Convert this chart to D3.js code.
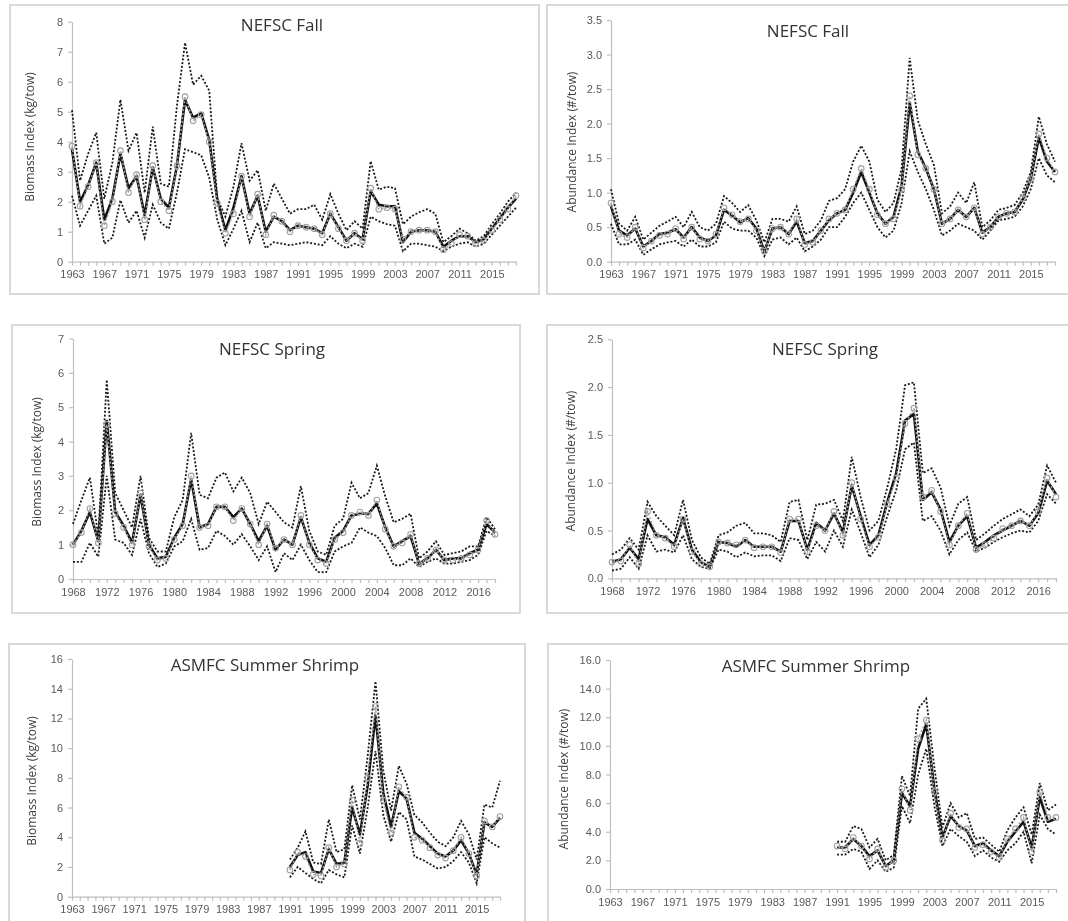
<!DOCTYPE html>
<html>
<head>
<meta charset="utf-8">
<script src="https://d3js.org/d3.v7.min.js"></script>
<style>
  body { margin: 0; background: #fff; }
  svg { display: block; font-family: "Open Sans", "Liberation Sans", sans-serif; filter: blur(0.45px); }
  .axis path, .axis line { stroke: #bfbfbf; }
  .axis text { fill: #595959; font-size: 11px; }
</style>
</head>
<body>
<script>
// ---------- data ----------
// NEFSC Fall 1963-2018
var fallStart = 1963;
var fallBioMean  = [3.75,2.0,2.55,3.3,1.4,2.1,3.6,2.45,2.85,1.55, 3.15,2.1,1.8,3.2,5.4,4.8,4.95,4.05,2.05,1.05, 1.8,2.85,1.6,2.2,1.0,1.5,1.35,1.05,1.2,1.15, 1.1,0.95,1.6,1.15,0.7,0.95,0.75,2.35,1.9,1.85, 1.85,0.65,1.0,1.05,1.05,1.0,0.5,0.7,0.85,0.85, 0.65,0.75,1.1,1.45,1.8,2.1];
var fallBioObs   = [3.85,1.85,2.5,3.3,1.2,2.0,3.7,2.3,2.9,1.4, 3.2,2.0,1.7,3.2,5.5,4.7,4.9,4.0,1.95,0.95, 1.6,2.85,1.5,2.25,0.9,1.55,1.35,1.0,1.2,1.15, 1.1,0.9,1.6,1.1,0.7,0.95,0.7,2.45,1.75,1.8, 1.75,0.75,1.0,1.05,1.05,1.0,0.4,0.6,0.9,0.85, 0.6,0.7,1.05,1.4,1.75,2.2];
var fallBioUpper = [5.05,2.7,3.6,4.3,2.1,3.3,5.4,3.7,4.3,2.3, 4.5,2.6,2.5,5.2,7.3,5.9,6.2,5.7,2.1,1.5, 2.5,3.95,2.7,3.05,1.7,2.6,2.1,1.6,1.75,1.75, 1.9,1.4,2.25,1.6,1.05,1.35,1.1,3.35,2.4,2.5, 2.45,1.25,1.5,1.65,1.75,1.6,0.65,0.85,1.1,0.95, 0.7,0.85,1.25,1.6,2.0,2.3];
var fallBioLower = [2.2,1.2,1.7,2.2,0.6,0.8,2.05,1.3,1.7,0.8, 1.9,1.3,1.1,2.3,3.75,3.65,3.55,2.8,1.4,0.55, 1.1,1.7,0.65,1.3,0.45,0.65,0.6,0.55,0.6,0.65, 0.6,0.55,0.85,0.6,0.45,0.6,0.5,1.5,1.35,1.25, 1.2,0.35,0.6,0.6,0.55,0.5,0.35,0.5,0.6,0.65, 0.5,0.6,0.9,1.2,1.5,1.8];

var fallAbunMean  = [0.8,0.45,0.38,0.48,0.22,0.3,0.4,0.42,0.47,0.35, 0.5,0.35,0.3,0.38,0.75,0.67,0.57,0.63,0.48,0.15, 0.48,0.5,0.4,0.58,0.27,0.3,0.45,0.6,0.7,0.75, 1.0,1.3,1.0,0.7,0.55,0.65,1.1,2.3,1.6,1.35, 1.05,0.55,0.62,0.75,0.65,0.78,0.42,0.5,0.65,0.7, 0.72,0.9,1.2,1.8,1.45,1.3];
var fallAbunObs   = [0.85,0.4,0.35,0.5,0.2,0.3,0.38,0.4,0.48,0.33, 0.5,0.33,0.3,0.4,0.78,0.68,0.58,0.62,0.45,0.15, 0.48,0.5,0.4,0.62,0.25,0.28,0.45,0.62,0.7,0.75, 1.05,1.35,1.05,0.68,0.55,0.62,1.05,2.4,1.55,1.35, 1.05,0.55,0.62,0.75,0.65,0.78,0.4,0.5,0.65,0.7, 0.72,0.92,1.2,1.85,1.5,1.3];
var fallAbunUpper = [1.05,0.55,0.45,0.65,0.32,0.42,0.52,0.58,0.65,0.5, 0.72,0.5,0.45,0.55,0.95,0.85,0.72,0.82,0.6,0.28, 0.62,0.62,0.58,0.8,0.4,0.45,0.6,0.88,0.92,1.05, 1.45,1.68,1.45,0.9,0.72,0.85,1.35,2.95,2.05,1.7, 1.4,0.7,0.8,1.0,0.85,1.15,0.5,0.6,0.75,0.78, 0.82,1.0,1.3,2.1,1.7,1.45];
var fallAbunLower = [0.55,0.25,0.25,0.32,0.1,0.18,0.25,0.28,0.3,0.22, 0.32,0.22,0.22,0.28,0.58,0.48,0.45,0.45,0.35,0.08, 0.32,0.35,0.25,0.35,0.15,0.22,0.32,0.5,0.5,0.65, 0.85,1.0,0.75,0.5,0.35,0.45,0.85,1.6,1.3,1.05, 0.75,0.38,0.45,0.55,0.5,0.45,0.32,0.45,0.6,0.62, 0.65,0.8,1.05,1.5,1.25,1.15];

// NEFSC Spring 1968-2018
var springStart = 1968;
var springBioMean  = [1.0,1.4,1.95,1.1,4.6,1.95,1.55,1.05,2.45,1.0, 0.6,0.65,1.2,1.6,2.9,1.5,1.6,2.1,2.1,1.8, 2.05,1.6,1.1,1.55,0.85,1.15,1.0,1.8,1.05,0.6, 0.5,1.2,1.4,1.85,1.9,1.9,2.2,1.5,0.95,1.1, 1.25,0.45,0.6,0.85,0.55,0.6,0.6,0.75,0.85,1.6, 1.35];
var springBioObs   = [1.0,1.35,2.05,1.05,4.5,1.9,1.5,1.0,2.5,0.95, 0.55,0.6,1.15,1.55,3.0,1.5,1.55,2.1,2.1,1.7, 2.05,1.6,1.0,1.6,0.9,1.15,1.0,1.85,1.0,0.55, 0.45,1.15,1.35,1.85,1.95,1.85,2.3,1.45,0.95,1.05, 1.3,0.45,0.6,0.85,0.55,0.55,0.6,0.7,0.85,1.7, 1.3];
var springBioUpper = [1.6,2.3,2.95,1.25,5.8,2.5,2.0,1.5,3.0,1.2, 0.8,0.8,1.8,2.3,4.25,2.45,2.35,2.95,3.1,2.55, 2.95,2.5,1.6,2.25,1.95,1.65,1.5,2.7,1.4,0.8, 0.7,1.55,1.75,2.8,2.35,2.5,3.3,2.4,1.65,1.75, 1.9,0.6,0.8,1.1,0.7,0.75,0.8,0.95,0.95,1.8, 1.45];
var springBioLower = [0.5,0.5,1.05,0.65,3.0,1.15,1.05,0.7,1.75,0.75, 0.35,0.45,0.95,1.1,1.75,0.85,0.9,1.4,1.25,1.0, 1.3,0.95,0.55,0.95,0.2,0.75,0.55,1.0,0.55,0.2, 0.2,0.8,0.95,1.05,1.5,1.35,1.25,0.9,0.4,0.4, 0.6,0.35,0.5,0.6,0.45,0.45,0.5,0.55,0.7,1.4, 1.25];

var springAbunMean  = [0.17,0.2,0.32,0.2,0.62,0.45,0.43,0.35,0.63,0.3, 0.17,0.12,0.38,0.37,0.33,0.4,0.33,0.33,0.33,0.28, 0.6,0.6,0.3,0.58,0.5,0.68,0.48,0.97,0.65,0.35, 0.45,0.8,1.1,1.65,1.72,0.82,0.9,0.72,0.38,0.55, 0.65,0.32,0.38,0.45,0.5,0.55,0.6,0.55,0.68,1.02, 0.88];
var springAbunObs   = [0.17,0.18,0.35,0.15,0.7,0.45,0.42,0.33,0.62,0.28, 0.15,0.12,0.38,0.37,0.35,0.4,0.32,0.33,0.33,0.27, 0.62,0.62,0.28,0.55,0.5,0.7,0.45,1.0,0.62,0.33, 0.43,0.78,1.05,1.62,1.78,0.85,0.92,0.7,0.35,0.55, 0.68,0.3,0.35,0.42,0.52,0.55,0.6,0.55,0.7,1.05, 0.85];
var springAbunUpper = [0.25,0.3,0.42,0.3,0.8,0.65,0.55,0.45,0.82,0.4, 0.22,0.15,0.45,0.48,0.55,0.58,0.47,0.47,0.45,0.38, 0.8,0.82,0.4,0.77,0.78,0.82,0.6,1.27,0.85,0.5, 0.6,0.95,1.35,2.02,2.05,1.1,1.15,0.95,0.55,0.78, 0.85,0.4,0.47,0.55,0.62,0.67,0.72,0.65,0.77,1.18, 1.0];
var springAbunLower = [0.08,0.1,0.22,0.1,0.45,0.28,0.3,0.27,0.45,0.2, 0.12,0.1,0.3,0.28,0.22,0.27,0.23,0.24,0.24,0.18, 0.42,0.4,0.2,0.38,0.28,0.5,0.33,0.72,0.48,0.22, 0.35,0.65,0.92,1.35,1.42,0.6,0.65,0.5,0.25,0.4, 0.48,0.28,0.32,0.38,0.43,0.47,0.5,0.48,0.6,0.88, 0.78];

// ASMFC Summer Shrimp 1991-2018 (axis 1963-2018)
var shrimpStart = 1991;
var shrimpBioMean  = [2.0,2.8,3.0,1.7,1.6,3.2,2.2,2.3,6.0,4.2, 7.5,12.2,7.0,4.7,7.1,6.6,4.3,3.9,3.4,2.9, 2.7,3.1,3.8,2.9,1.5,5.0,4.7,5.3];
var shrimpBioObs   = [1.8,3.0,2.7,1.5,1.4,3.3,2.0,2.2,6.5,3.6, 8.0,12.8,6.5,4.3,7.4,6.7,4.0,3.8,3.3,2.8, 2.6,3.1,4.0,2.9,1.4,5.1,4.7,5.4];
var shrimpBioUpper = [2.5,3.3,4.4,2.3,2.2,5.2,3.0,3.2,7.5,5.2, 9.5,14.5,8.5,5.8,8.8,7.6,5.5,5.0,4.3,3.7, 3.4,4.0,5.1,4.2,2.5,6.2,6.0,7.8];
var shrimpBioLower = [1.3,2.0,1.6,1.2,0.9,1.8,1.5,1.3,4.8,2.9, 6.0,9.8,5.5,3.7,5.7,5.2,2.7,2.5,2.2,1.9, 2.0,2.4,3.0,2.3,0.9,4.0,3.6,3.3];

var shrimpAbunMean  = [2.9,2.9,3.5,3.0,2.3,2.7,1.6,2.0,6.7,5.8, 9.8,11.5,7.0,3.6,5.1,4.4,4.1,3.0,3.2,2.7, 2.3,3.3,4.0,4.7,2.9,6.4,4.7,4.9];
var shrimpAbunObs   = [3.0,2.8,3.6,3.0,2.1,2.8,1.5,2.0,7.0,5.5, 10.5,11.8,6.8,3.4,5.3,4.3,4.2,2.9,3.1,2.6, 2.2,3.5,4.2,5.0,2.6,6.8,5.0,5.0];
var shrimpAbunUpper = [3.3,3.3,4.4,4.2,2.9,3.5,2.0,2.4,7.9,6.5, 12.6,13.3,8.5,4.3,6.0,5.0,5.3,3.5,3.6,3.1, 2.6,4.1,5.0,5.7,3.8,7.4,5.5,5.9];
var shrimpAbunLower = [2.4,2.4,2.8,2.6,1.4,2.0,1.2,1.5,5.8,4.6, 8.0,9.8,5.8,3.0,4.2,3.7,3.3,2.3,2.7,2.2, 1.9,2.7,3.2,4.0,1.8,5.2,4.2,3.8];

// tick labels
var fallYearLabels   = [1963,1967,1971,1975,1979,1983,1987,1991,1995,1999,2003,2007,2011,2015];
var springYearLabels = [1968,1972,1976,1980,1984,1988,1992,1996,2000,2004,2008,2012,2016];
var fallBioTicks    = [0,1,2,3,4,5,6,7,8];
var fallAbunTicks   = [0,0.5,1.0,1.5,2.0,2.5,3.0,3.5];
var springBioTicks  = [0,1,2,3,4,5,6,7];
var springAbunTicks = [0,0.5,1.0,1.5,2.0,2.5];
var shrimpTicks     = [0,2,4,6,8,10,12,14,16];

// ---------- layout ----------
var panels = [
  {title:"NEFSC Fall", ylab:"Biomass Index (kg/tow)", years:[1963,2018], start:fallStart,
   mean:fallBioMean, obs:fallBioObs, up:fallBioUpper, lo:fallBioLower, yTicks:fallBioTicks, fmt:d3.format("d"), labels:fallYearLabels,
   frame:[10,5,529,289], xr:[72,516], yr:[261.7,21.7], tx:282, ty:24, lx:29, ly:137},
  {title:"NEFSC Fall", ylab:"Abundance Index (#/tow)", years:[1963,2018], start:fallStart,
   mean:fallAbunMean, obs:fallAbunObs, up:fallAbunUpper, lo:fallAbunLower, yTicks:fallAbunTicks, fmt:d3.format(".1f"), labels:fallYearLabels,
   frame:[547,5,540,289], xr:[611,1055], yr:[261.7,20], tx:808, ty:30, lx:571, ly:142},
  {title:"NEFSC Spring", ylab:"Biomass Index (kg/tow)", years:[1968,2018], start:springStart,
   mean:springBioMean, obs:springBioObs, up:springBioUpper, lo:springBioLower, yTicks:springBioTicks, fmt:d3.format("d"), labels:springYearLabels,
   frame:[12,325,508,288], xr:[73,495], yr:[579,338.5], tx:272, ty:348, lx:36, ly:462},
  {title:"NEFSC Spring", ylab:"Abundance Index (#/tow)", years:[1968,2018], start:springStart,
   mean:springAbunMean, obs:springAbunObs, up:springAbunUpper, lo:springAbunLower, yTicks:springAbunTicks, fmt:d3.format(".1f"), labels:springYearLabels,
   frame:[547,325,540,288], xr:[612,1056], yr:[578.3,339.3], tx:825, ty:348, lx:570, ly:461},
  {title:"ASMFC Summer Shrimp", ylab:"Biomass Index (kg/tow)", years:[1963,2018], start:shrimpStart,
   mean:shrimpBioMean, obs:shrimpBioObs, up:shrimpBioUpper, lo:shrimpBioLower, yTicks:shrimpTicks, fmt:d3.format("d"), labels:fallYearLabels,
   frame:[9,644,516,300], xr:[72,500], yr:[896.7,659], tx:265, ty:664, lx:31, ly:781},
  {title:"ASMFC Summer Shrimp", ylab:"Abundance Index (#/tow)", years:[1963,2018], start:shrimpStart,
   mean:shrimpAbunMean, obs:shrimpAbunObs, up:shrimpAbunUpper, lo:shrimpAbunLower, yTicks:shrimpTicks, fmt:d3.format(".1f"), labels:fallYearLabels,
   frame:[548,644,540,300], xr:[610,1056], yr:[889,660], tx:816, ty:665, lx:563, ly:779}
];

var svg = d3.select("body").append("svg")
  .attr("width", 1068)
  .attr("height", 921);

panels.forEach(function(p) {
  var g = svg.append("g");

  // light frame round each chart
  g.append("rect")
    .attr("x", p.frame[0]).attr("y", p.frame[1])
    .attr("width", p.frame[2]).attr("height", p.frame[3])
    .attr("fill", "none")
    .attr("stroke", "#d9d9d9")
    .attr("stroke-width", 2);

  var x = d3.scaleLinear().domain(p.years).range(p.xr);
  var yMax = p.yTicks[p.yTicks.length - 1];
  var y = d3.scaleLinear().domain([0, yMax]).range(p.yr);

  var allYears = d3.range(p.years[0], p.years[1] + 1);

  var xAxis = d3.axisBottom(x)
    .tickValues(allYears)
    .tickFormat(function(d) { return p.labels.indexOf(d) >= 0 ? d : ""; })
    .tickSize(4)
    .tickSizeOuter(0)
    .tickPadding(5);

  var yAxis = d3.axisLeft(y)
    .tickValues(p.yTicks)
    .tickFormat(p.fmt)
    .tickSize(4)
    .tickSizeOuter(0)
    .tickPadding(5);

  g.append("g")
    .attr("class", "axis")
    .attr("transform", "translate(0," + p.yr[0] + ")")
    .call(xAxis);

  g.append("g")
    .attr("class", "axis")
    .attr("transform", "translate(" + p.xr[0] + ",0)")
    .call(yAxis);

  g.selectAll(".axis path, .axis line").attr("stroke-width", 1.2);

  // title
  g.append("text")
    .attr("x", p.tx).attr("y", p.ty)
    .attr("text-anchor", "middle")
    .attr("dominant-baseline", "central")
    .attr("fill", "#333")
    .style("font-size", "17px")
    .text(p.title);

  // y label
  g.append("text")
    .attr("transform", "translate(" + p.lx + "," + p.ly + ") rotate(-90)")
    .attr("text-anchor", "middle")
    .attr("dominant-baseline", "central")
    .attr("fill", "#404040")
    .style("font-size", "12px")
    .text(p.ylab);

  function pts(arr) {
    return arr.map(function(v, i) { return {year: p.start + i, v: v}; });
  }

  var line = d3.line()
    .x(function(d) { return x(d.year); })
    .y(function(d) { return y(d.v); });

  // confidence bounds, black dotted
  [p.lo, p.up].forEach(function(arr) {
    g.append("path")
      .datum(pts(arr))
      .attr("d", line)
      .attr("fill", "none")
      .attr("stroke", "#1a1a1a")
      .attr("stroke-width", 1.8)
      .attr("stroke-dasharray", "2,1.8");
  });

  // mean, solid black
  g.append("path")
    .datum(pts(p.mean))
    .attr("d", line)
    .attr("fill", "none")
    .attr("stroke", "#111")
    .attr("stroke-width", 2.6)
    .attr("stroke-linejoin", "round");

  // observed index, grey dotted with open circles
  g.append("path")
    .datum(pts(p.obs))
    .attr("d", line)
    .attr("fill", "none")
    .attr("stroke", "#a0a0a0")
    .attr("stroke-width", 1.5)
    .attr("stroke-dasharray", "2,2");

  g.selectAll(null)
    .data(pts(p.obs))
    .enter()
    .append("circle")
    .attr("cx", function(d) { return x(d.year); })
    .attr("cy", function(d) { return y(d.v); })
    .attr("r", 2.8)
    .attr("fill", "none")
    .attr("stroke", "#a0a0a0")
    .attr("stroke-width", 1.1);
});
</script>
</body>
</html>
